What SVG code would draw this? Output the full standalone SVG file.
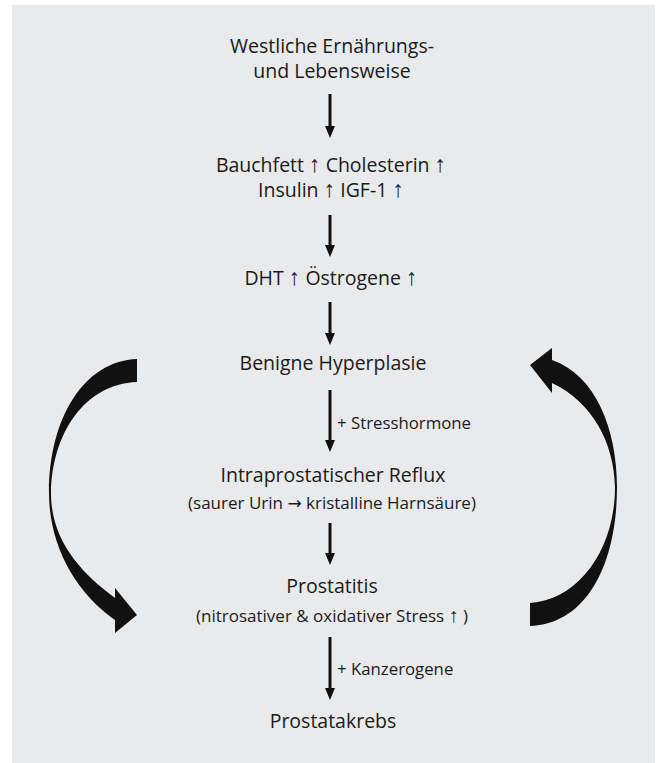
<svg xmlns="http://www.w3.org/2000/svg" width="657" height="763" viewBox="0 0 657 763">
<defs>
<style>
.t{font-family:"Open Sans","Noto Sans","DejaVu Sans",sans-serif;font-size:19.5px;fill:#1a1a1a;text-anchor:middle}
.p{font-size:17px}
.s{font-family:"Open Sans","Noto Sans","DejaVu Sans",sans-serif;font-size:16.8px;fill:#1a1a1a}
.a{font-family:"Liberation Sans","DejaVu Sans",sans-serif;font-size:23px}
.c{stroke:#111;stroke-width:3;fill:none}
.h{fill:#111}
</style>
</defs>
<rect x="0" y="0" width="657" height="763" fill="#ffffff"/>
<rect x="12" y="5" width="643" height="758" fill="#e9eaeb"/>
<g id="n1"><text class="t" x="332" y="53">Westliche Ernährungs-</text><text class="t" x="332" y="78">und Lebensweise</text></g>
<g id="n2"><text class="t" x="331" y="172">Bauchfett <tspan class="a">↑</tspan> Cholesterin <tspan class="a">↑</tspan></text><text class="t" x="331" y="197">Insulin <tspan class="a">↑</tspan> IGF-1 <tspan class="a">↑</tspan></text></g>
<g id="n3"><text class="t" x="331" y="285">DHT <tspan class="a">↑</tspan> Östrogene <tspan class="a">↑</tspan></text></g>
<g id="n4"><text class="t" x="333" y="370">Benigne Hyperplasie</text></g>
<g id="n5"><text class="t" x="333" y="482">Intraprostatischer Reflux</text><text class="t p" x="332" y="509">(saurer Urin → kristalline Harnsäure)</text></g>
<g id="n6"><text class="t" x="332" y="593">Prostatitis</text><text class="t p" x="332" y="622">(nitrosativer &amp; oxidativer Stress <tspan class="a" style="font-size:20px">↑</tspan> )</text></g>
<g id="n7"><text class="t" x="333" y="728">Prostatakrebs</text></g>
<g id="connectors">
<line class="c" x1="330" y1="94" x2="330" y2="127"/><path class="h" d="M325,126 L335,126 L330,138 Z"/>
<line class="c" x1="330" y1="215" x2="330" y2="246"/><path class="h" d="M325,245 L335,245 L330,257 Z"/>
<line class="c" x1="330" y1="302" x2="330" y2="334"/><path class="h" d="M325,333 L335,333 L330,345 Z"/>
<line class="c" x1="330" y1="390" x2="330" y2="441"/><path class="h" d="M325,440 L335,440 L330,452 Z"/>
<text class="s" x="337" y="429">+ Stresshormone</text>
<line class="c" x1="330" y1="523" x2="330" y2="554"/><path class="h" d="M325,553 L335,553 L330,565 Z"/>
<line class="c" x1="330" y1="637" x2="330" y2="689"/><path class="h" d="M325,688 L335,688 L330,700 Z"/>
<text class="s" x="337" y="675">+ Kanzerogene</text>
<path class="h" d="M137,359 C84,361 49,418 49,493 C49,545 75,592 115,620 L115,633 L137,615 L115,588 L115,598 C80,572 51,540 51,493 C52,434 84,384 137,382 Z"/>
<path class="h" d="M530,603 C578,600 615,550 615,487 C614,442 592,402 552,383 L552,393 L530,365 L552,348 L552,360 C596,375 617,430 617,487 C617,562 588,624 530,626 Z"/>
</g>
</svg>
